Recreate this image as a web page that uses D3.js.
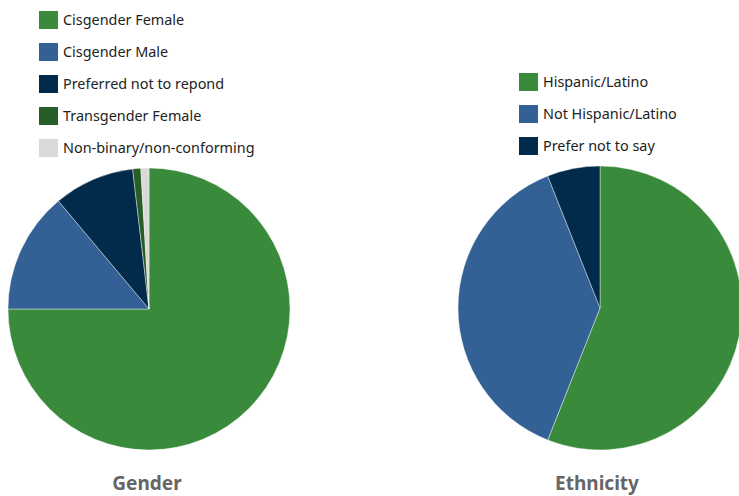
<!DOCTYPE html>
<html>
<head>
<meta charset="utf-8">
<script src="https://cdn.jsdelivr.net/npm/d3@7"></script>
<style>
  body { margin: 0; background: #fff; }
  svg { display: block; font-family: "Noto Sans", "Open Sans", sans-serif; }
</style>
</head>
<body>
<div id="chart"></div>
<script>
// data
var genderLabels = ["Cisgender Female", "Cisgender Male", "Preferred not to repond", "Transgender Female", "Non-binary/non-conforming"];
var genderValues = [81, 15, 10, 1, 1];
var genderColors = ["#3a8a3b", "#336196", "#022b4b", "#275e27", "#d9d9d9"];

var ethLabels = ["Hispanic/Latino", "Not Hispanic/Latino", "Prefer not to say"];
var ethValues = [56, 38, 6];
var ethColors = ["#3a8a3b", "#336196", "#022b4b"];

var svg = d3.select("#chart")
  .append("svg")
  .attr("width", 739)
  .attr("height", 496);

function drawPie(cfg) {
  var data = cfg.values.map(function(v, i) { return { label: cfg.labels[i], value: v, color: cfg.colors[i] }; });

  var pie = d3.pie().sort(null).value(function(d) { return d.value; });
  var arc = d3.arc().innerRadius(0).outerRadius(cfg.r);

  var g = svg.append("g").attr("transform", "translate(" + cfg.cx + "," + cfg.cy + ")");
  g.selectAll("path")
    .data(pie(data))
    .enter().append("path")
    .attr("d", arc)
    .attr("fill", function(d) { return d.data.color; })
    .attr("stroke", "#fff")
    .attr("stroke-width", 0.4);

  // legend
  var leg = svg.append("g").attr("transform", "translate(" + cfg.lx + "," + cfg.ly + ")");
  var item = leg.selectAll(".item")
    .data(data)
    .enter().append("g")
    .attr("class", "item")
    .attr("transform", function(d, i) { return "translate(0," + (i * 32) + ")"; });
  item.append("rect")
    .attr("x", 0).attr("y", -9)
    .attr("width", 19).attr("height", 18)
    .attr("fill", function(d) { return d.color; });
  item.append("text")
    .attr("x", 24).attr("y", 0)
    .attr("dy", "0.35em")
    .attr("font-size", 14.4)
    .attr("fill", "#222")
    .text(function(d) { return d.label; });

  svg.append("text")
    .attr("x", cfg.tx).attr("y", 490)
    .attr("text-anchor", "middle")
    .attr("font-size", 19)
    .attr("font-weight", "bold")
    .attr("fill", "#666")
    .text(cfg.title);
}

drawPie({ labels: genderLabels, values: genderValues, colors: genderColors,
  cx: 149, cy: 309, r: 141, lx: 39, ly: 20, tx: 147, title: "Gender" });
drawPie({ labels: ethLabels, values: ethValues, colors: ethColors,
  cx: 600, cy: 308, r: 142, lx: 519, ly: 82, tx: 597, title: "Ethnicity" });
</script>
</body>
</html>
